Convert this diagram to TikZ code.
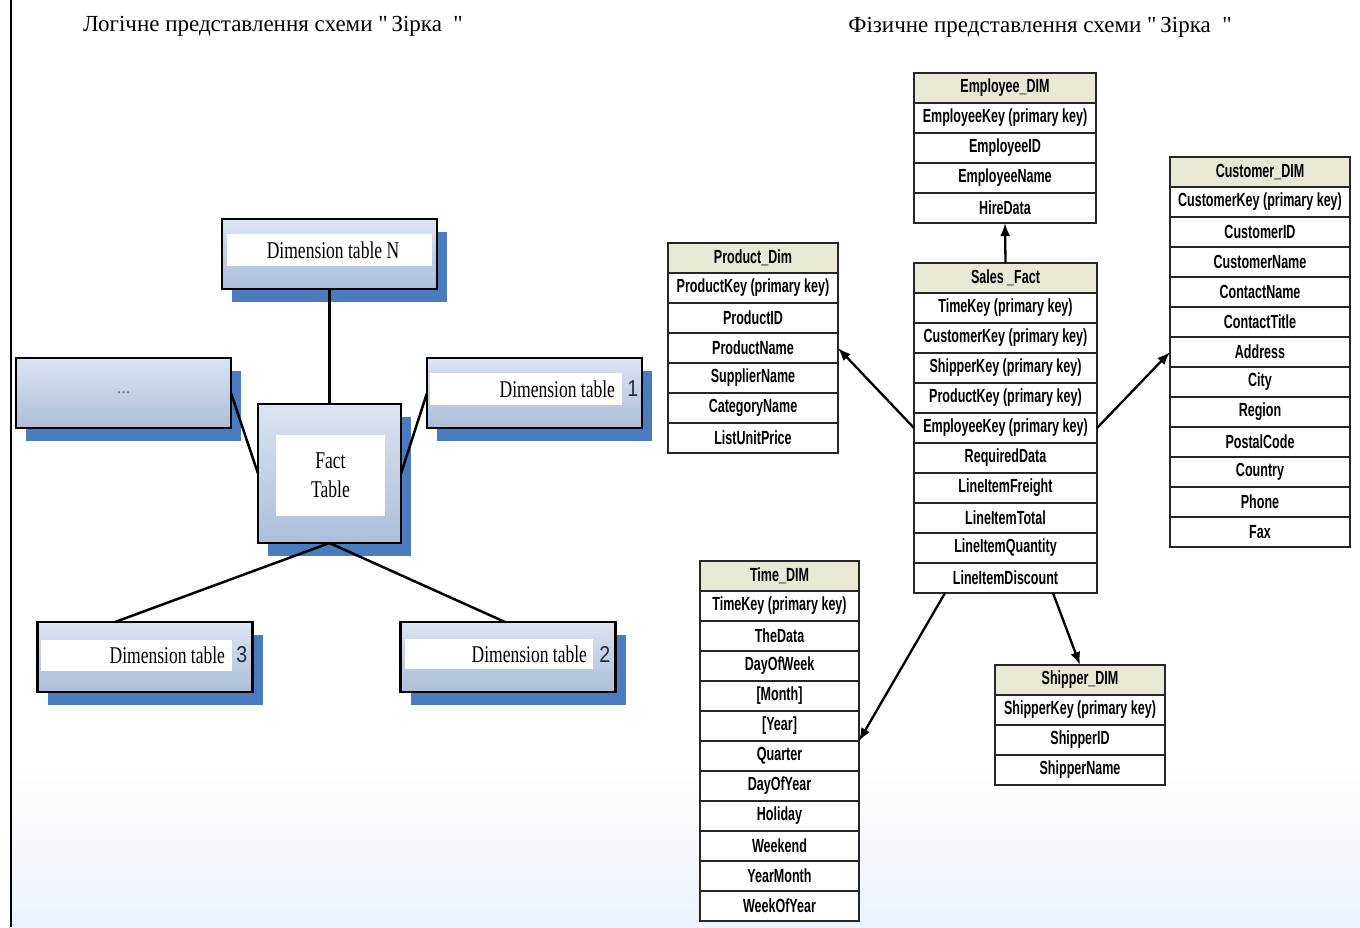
\documentclass[tikz,border=0pt]{standalone}
\usepackage{fontspec}
\setmainfont{Liberation Serif}
\newfontfamily\narrowserif[FakeStretch=0.73]{Liberation Serif}
\newfontfamily\tabfont[FakeStretch=0.66]{Liberation Sans}
\newfontfamily\digitfont[FakeStretch=0.85]{Liberation Sans}
\usetikzlibrary{positioning,shadows,arrows.meta}

\definecolor{boxtop}{HTML}{DCE4F0}
\definecolor{boxbot}{HTML}{ABBEDB}
\definecolor{shadowblue}{HTML}{4A7BBE}
\definecolor{headfill}{HTML}{E9E7D6}
\definecolor{digitcol}{HTML}{1F2A40}
\definecolor{bgblue}{HTML}{EBF2FB}

\tikzset{
  dimbox/.style={draw=black, line width=2.4pt, top color=boxtop, bottom color=boxbot,
    minimum width=215pt, minimum height=70pt, outer sep=0pt,
    drop shadow={shadow xshift=10pt, shadow yshift=-13pt, fill=shadowblue, opacity=1}},
  band/.style={fill=white, inner sep=0pt},
  dimlabel/.style={inner sep=0pt, font=\narrowserif\fontsize{24}{28}\selectfont},
  digit/.style={inner sep=0pt, text=digitcol, font=\digitfont\fontsize{23}{26}\selectfont},
  tblhead/.style={draw=black!85, line width=1.6pt, fill=headfill, minimum height=30pt,
    outer sep=0pt, inner sep=2pt, font=\tabfont\bfseries\fontsize{19}{22}\selectfont},
  tblrow/.style={tblhead, fill=white},
  link/.style={line width=2.5pt},
  fk/.style={line width=2.3pt, -{Latex[length=13pt, width=10pt]}}
}

% one table of the physical schema: name, top left, width, title, rows
\newcommand{\startable}[5]{%
  \node[tblhead, minimum width=#3, anchor=north west, alias=#1-0] (#1) at #2 {#4};
  \foreach \row [count=\i, remember=\i as \j (initially 0)] in {#5}
    \node[tblrow, minimum width=#3, below=0pt of #1-\j] (#1-\i) {\row};
}

\begin{document}
\begin{tikzpicture}[x=1pt, y=-1pt]
  \useasboundingbox (0,0) rectangle (1360,927);
  \shade[top color=white, bottom color=bgblue] (12,760) rectangle (1360,927);
  \draw[line width=1.5pt] (11,0) -- (11,927);

  % titles
  \node[font=\fontsize{23}{27}\selectfont] (title-log) at (273,26)
    {Логічне представлення схеми \textquotedbl\,Зірка\ \ \textquotedbl};
  \node[font=\fontsize{23}{27}\selectfont] (title-phys) at (1040,27)
    {Фізичне представлення схеми \textquotedbl\,Зірка\ \ \textquotedbl};

  % logical schema (left)
  \node[dimbox] (dimN) at (329.5,254) {};
  \node[dimbox, font=\fontsize{18}{18}\selectfont, text=black!55] (dimDots) at (123.5,393) {...};
  \node[dimbox] (dim1) at (534.5,393) {};
  \node[dimbox, minimum width=143pt, minimum height=139pt] (fact) at (329.5,473.5) {};
  \node[dimbox] (dim3) at (145,657) {};
  \node[dimbox] (dim2) at (508,657) {};

  \node[band, minimum width=205pt, minimum height=32pt] (dimN-band) at (329.5,250) {};
  \node[dimlabel] (dimN-txt) at (333,250) {Dimension table N};

  \node[band, minimum width=192pt, minimum height=32pt] (dim1-band) at (526,389) {};
  \node[dimlabel, anchor=east] (dim1-txt) at ([xshift=-7pt]dim1-band.east) {Dimension table};
  \node[digit, anchor=west] (dim1-no) at ([xshift=5pt]dim1-band.east) {1};

  \node[band, minimum width=191pt, minimum height=31pt] (dim3-band) at (136.5,655) {};
  \node[dimlabel, anchor=east] (dim3-txt) at ([xshift=-7pt]dim3-band.east) {Dimension table};
  \node[digit, anchor=west] (dim3-no) at ([xshift=4pt]dim3-band.east) {3};

  \node[band, minimum width=188pt, minimum height=30pt] (dim2-band) at (499,654) {};
  \node[dimlabel, anchor=east] (dim2-txt) at ([xshift=-6pt]dim2-band.east) {Dimension table};
  \node[digit, anchor=west] (dim2-no) at ([xshift=6pt]dim2-band.east) {2};

  \node[band, minimum width=109pt, minimum height=81pt] (fact-band) at (330.5,475.5) {};
  \node[dimlabel, align=center] (fact-txt) at (fact-band) {Fact\\[1pt]Table};

  \draw[link] (dimN.south) -- (fact.north);
  \draw[link] (dimDots.east) -- (fact.west);
  \draw[link] (dim1.west) -- (fact.east);
  \draw[link] (fact.south) -- ([xshift=-30pt]dim3.north);
  \draw[link] (fact.south) -- ([xshift=-3pt]dim2.north);

  % physical schema (right)
  \startable{emp}{(914,73)}{182pt}{Employee\_DIM}
    {EmployeeKey (primary key), EmployeeID, EmployeeName, HireData}
  \startable{sales}{(914,263)}{183pt}{Sales \_Fact}
    {TimeKey (primary key), CustomerKey (primary key), ShipperKey (primary key),
     ProductKey (primary key), EmployeeKey (primary key), RequiredData,
     LineItemFreight, LineItemTotal, LineItemQuantity, LineItemDiscount}
  \startable{prod}{(668,243)}{170pt}{Product\_Dim}
    {ProductKey (primary key), ProductID, ProductName, SupplierName, CategoryName, ListUnitPrice}
  \startable{cust}{(1170,157)}{180pt}{Customer\_DIM}
    {CustomerKey (primary key), CustomerID, CustomerName, ContactName, ContactTitle,
     Address, City, Region, PostalCode, Country, Phone, Fax}
  \startable{time}{(700,561)}{159pt}{Time\_DIM}
    {TimeKey (primary key), TheData, DayOfWeek, {[Month]}, {[Year]}, Quarter,
     DayOfYear, Holiday, Weekend, YearMonth, WeekOfYear}
  \startable{ship}{(995,665)}{170pt}{Shipper\_DIM}
    {ShipperKey (primary key), ShipperID, ShipperName}

  \draw[fk] (sales.north) -- (emp-4.south);
  \draw[fk] (sales-5.west) -- (prod-3.east);
  \draw[fk] (sales-5.east) -- (cust-6.west);
  \draw[fk] ([xshift=31pt]sales-10.south west) -- (time-5.south east);
  \draw[fk] ([xshift=-44pt]sales-10.south east) -- (ship.north);
\end{tikzpicture}
\end{document}
